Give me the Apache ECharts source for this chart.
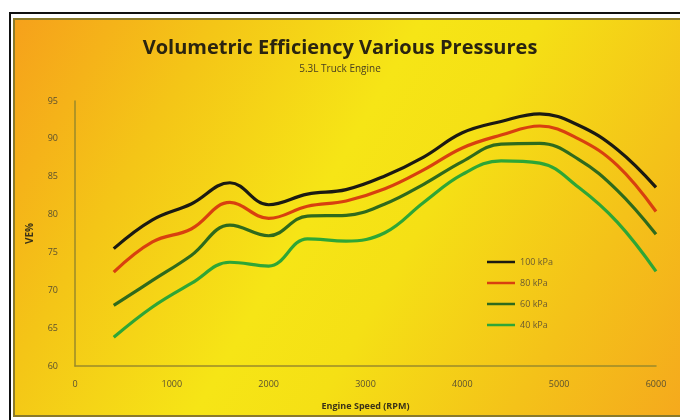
<!DOCTYPE html>
<html>
<head>
<meta charset="utf-8">
<script src="https://cdn.jsdelivr.net/npm/echarts@6/dist/echarts.min.js"></script>
<style>
  html, body { margin: 0; padding: 0; background: #fff; }
  #frame { position: absolute; left: 9px; top: 12px; width: 690px; height: 420px; border: 2px solid #111; box-sizing: border-box; }
  #panel { position: absolute; left: 13px; top: 18px; width: 680px; height: 399px; border: 2px solid #8a7a2a; box-sizing: border-box;
    background: linear-gradient(120deg, #f6a11b 0%, #f4c517 22%, #f6e516 45%, #f5e015 58%, #f4c219 80%, #f5a81d 100%); }
  #chart { position: absolute; left: 0; top: 0; width: 680px; height: 420px; }
</style>
</head>
<body>
<div id="frame"></div>
<div id="panel"></div>
<div id="chart"></div>
<script>
// 转速（RPM）与各进气压力下的容积效率 VE%
const rpm = [400, 800, 1200, 1600, 2000, 2400, 2800, 3200, 3600, 4000, 4400, 4800, 5200, 5600, 6000];
const ve100 = [75.5, 79.3, 81.4, 84.2, 81.3, 82.7, 83.3, 85.1, 87.6, 90.8, 92.3, 93.3, 91.8, 88.6, 83.6];
const ve80 = [72.4, 76.4, 78.1, 81.6, 79.5, 81.1, 81.8, 83.4, 85.9, 88.8, 90.5, 91.7, 90.0, 86.5, 80.4];
const ve60 = [68.0, 71.3, 74.6, 78.6, 77.2, 79.8, 79.9, 81.4, 84.0, 87.0, 89.3, 89.4, 87.3, 83.2, 77.4];
const ve40 = [63.8, 67.8, 70.9, 73.7, 73.2, 76.8, 76.5, 77.6, 81.6, 85.3, 87.1, 86.8, 83.6, 79.0, 72.5];

const seriesNames = ['100 kPa', '80 kPa', '60 kPa', '40 kPa'];
const seriesColors = ['#1b1a12', '#d8400f', '#2f6a1c', '#2ea636'];
const seriesData = [ve100, ve80, ve60, ve40];

const AXIS_INK = '#5a5030';
const FONT = '"Open Sans", "Liberation Sans", sans-serif';

const chart = echarts.init(document.getElementById('chart'), null, { renderer: 'canvas' });
chart.setOption({
  animation: false,
  backgroundColor: 'transparent',
  title: {
    text: 'Volumetric Efficiency Various Pressures',
    subtext: '5.3L Truck Engine',
    left: 'center', top: 33, itemGap: 6,
    textStyle: { fontFamily: FONT, fontSize: 20, fontWeight: 'bold', color: '#2a2410' },
    subtextStyle: { fontFamily: FONT, fontSize: 10, color: '#4a4020' },
  },
  legend: {
    orient: 'vertical', left: 482, top: 252,
    icon: 'rect', itemWidth: 28, itemHeight: 2.5, itemGap: 11,
    textStyle: { fontFamily: FONT, fontSize: 9, color: '#6a5a30', lineHeight: 10 },
    data: seriesNames,
  },
  grid: { left: 75, right: 24, top: 101, bottom: 54 },
  xAxis: {
    type: 'value', min: 0, max: 6000, interval: 1000,
    name: 'Engine Speed (RPM)', nameLocation: 'middle', nameGap: 36,
    nameTextStyle: { fontFamily: FONT, fontSize: 9, fontWeight: 'bold', color: '#3a3218' },
    axisLine: { show: true, lineStyle: { color: '#9a8a2a', width: 1.5 } },
    axisTick: { show: false },
    splitLine: { show: false },
    axisLabel: { fontFamily: FONT, fontSize: 9, color: AXIS_INK, margin: 14, formatter: (v) => String(v) },
  },
  yAxis: {
    type: 'value', min: 60, max: 95, interval: 5,
    name: 'VE%', nameLocation: 'middle', nameGap: 40, nameRotate: 90,
    nameTextStyle: { fontFamily: FONT, fontSize: 10, fontWeight: 'bold', color: '#3a3218' },
    axisLine: { show: true, lineStyle: { color: '#9a8a2a', width: 1.5 } },
    axisTick: { show: false },
    splitLine: { show: false },
    axisLabel: { fontFamily: FONT, fontSize: 9, color: AXIS_INK, margin: 17 },
  },
  series: seriesNames.map((name, i) => ({
    name, type: 'line', smooth: 0.4, showSymbol: false,
    color: seriesColors[i],
    lineStyle: { width: 3.2, color: seriesColors[i] },
    data: rpm.map((r, j) => [r, seriesData[i][j]]),
  })),
});
</script>
</body>
</html>
